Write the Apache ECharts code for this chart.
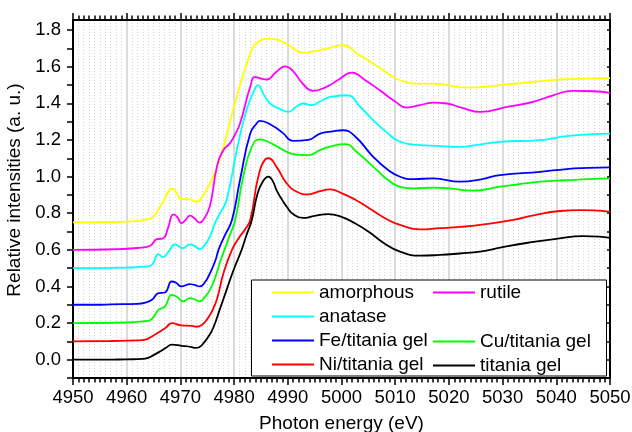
<!DOCTYPE html>
<html>
<head>
<meta charset="utf-8">
<script src="https://cdn.jsdelivr.net/npm/echarts@6.0.0/dist/echarts.min.js"></script>
<style>
  html, body { margin: 0; padding: 0; background: #fff; }
  #main { width: 632px; height: 432px; }
</style>
</head>
<body>
<div id="main"></div>
<script>
// spectra (photon energy in eV, relative intensity)
var eAmorphous = [4950, 4958, 4962, 4963.5, 4964.9, 4966.2, 4966.8, 4967.6, 4968.4, 4969.2, 4970.2, 4971.5, 4973, 4973.6, 4975.5, 4977.4, 4979.8, 4983, 4984.5, 4986.7, 4988.5, 4990.5, 4992.9, 4995, 4997.2, 5000.3, 5003, 5005.9, 5008.5, 5010.9, 5014.6, 5017.1, 5020, 5023.3, 5026, 5029.5, 5035.7, 5040.7, 5045.7, 5050];
var vAmorphous = [0.75, 0.752, 0.757, 0.765, 0.78, 0.835, 0.863, 0.91, 0.936, 0.915, 0.876, 0.877, 0.863, 0.87, 0.963, 1.1, 1.362, 1.671, 1.735, 1.753, 1.744, 1.71, 1.675, 1.685, 1.699, 1.717, 1.67, 1.617, 1.565, 1.526, 1.508, 1.508, 1.498, 1.486, 1.488, 1.499, 1.517, 1.53, 1.535, 1.538];

var eRutile = [4950, 4958, 4962, 4964.3, 4965.6, 4966.8, 4967.7, 4968.7, 4969.4, 4970.2, 4971, 4971.8, 4972.7, 4973.6, 4974.3, 4975.5, 4976.8, 4978, 4979.2, 4980, 4981.1, 4983, 4983.9, 4985, 4986.1, 4987.8, 4989.5, 4991, 4993, 4994.7, 4997.2, 4999.5, 5001.9, 5004.5, 5007.2, 5010, 5012.1, 5014.6, 5017.1, 5019.6, 5022.5, 5025.8, 5030.8, 5035.7, 5039.4, 5043.2, 5046.9, 5050];
var vRutile = [0.6, 0.603, 0.61, 0.621, 0.658, 0.663, 0.72, 0.794, 0.78, 0.745, 0.765, 0.787, 0.77, 0.748, 0.765, 0.84, 1.053, 1.144, 1.181, 1.22, 1.29, 1.49, 1.544, 1.535, 1.53, 1.57, 1.602, 1.575, 1.5, 1.468, 1.49, 1.53, 1.568, 1.525, 1.47, 1.41, 1.377, 1.39, 1.404, 1.399, 1.375, 1.353, 1.38, 1.408, 1.444, 1.468, 1.466, 1.457];

var eAnatase = [4950, 4960, 4963.5, 4964.7, 4965.9, 4966.8, 4967.8, 4969, 4970.4, 4971.8, 4972.7, 4973.6, 4974.5, 4975.5, 4976.5, 4977.4, 4978.6, 4980.5, 4982.3, 4983.9, 4984.4, 4985.5, 4986.7, 4988.5, 4990.1, 4991.5, 4992.9, 4994.4, 4996, 4997.9, 5001, 5003.5, 5005.9, 5008.5, 5010.9, 5014.6, 5018, 5021.4, 5025, 5029.5, 5037, 5041.9, 5046, 5050];
var vAnatase = [0.5, 0.503, 0.508, 0.518, 0.576, 0.56, 0.59, 0.63, 0.609, 0.63, 0.62, 0.603, 0.625, 0.672, 0.75, 0.8, 0.872, 1.144, 1.362, 1.48, 1.499, 1.45, 1.399, 1.37, 1.353, 1.38, 1.399, 1.39, 1.41, 1.435, 1.444, 1.38, 1.308, 1.24, 1.19, 1.172, 1.168, 1.162, 1.172, 1.19, 1.199, 1.221, 1.23, 1.235];

var eFe = [4950, 4955, 4957, 4962, 4963.5, 4964.7, 4965.9, 4967.1, 4968.4, 4969.2, 4970.2, 4971.8, 4972.6, 4973.6, 4974.5, 4975.5, 4976.5, 4977.1, 4978.3, 4979.6, 4981.1, 4983, 4984.2, 4984.8, 4987, 4989, 4991, 4993.8, 4996, 4998, 5000.3, 5002.5, 5005.9, 5008.5, 5010.9, 5013.4, 5017.1, 5022.1, 5026, 5029.5, 5037, 5041.9, 5046, 5050];
var vFe = [0.3, 0.3, 0.302, 0.305, 0.312, 0.327, 0.363, 0.367, 0.427, 0.42, 0.4, 0.413, 0.408, 0.4, 0.42, 0.472, 0.54, 0.6, 0.68, 0.763, 0.981, 1.235, 1.29, 1.304, 1.28, 1.24, 1.195, 1.2, 1.235, 1.245, 1.253, 1.22, 1.108, 1.04, 0.999, 0.986, 0.99, 0.972, 0.985, 1.008, 1.026, 1.041, 1.047, 1.05];

var eCu = [4950, 4960, 4963.5, 4964.7, 4965.9, 4967.1, 4968.4, 4969.3, 4970.5, 4971.8, 4972.6, 4973.6, 4974.5, 4975.5, 4976.5, 4977.4, 4978.2, 4979.2, 4980.2, 4981.7, 4983.3, 4984.7, 4987, 4989.8, 4991.5, 4993.8, 4996, 4998, 5000.6, 5003, 5006.6, 5008.5, 5010.9, 5013.4, 5017.1, 5020, 5024.5, 5029.5, 5033, 5037, 5042, 5046, 5050];
var vCu = [0.2, 0.203, 0.21, 0.222, 0.272, 0.29, 0.354, 0.345, 0.318, 0.336, 0.33, 0.318, 0.34, 0.381, 0.45, 0.536, 0.6, 0.68, 0.763, 0.999, 1.162, 1.203, 1.18, 1.135, 1.12, 1.117, 1.144, 1.165, 1.177, 1.13, 1.035, 0.985, 0.944, 0.935, 0.94, 0.935, 0.923, 0.945, 0.958, 0.972, 0.98, 0.986, 0.99];

var eNi = [4950, 4957, 4962, 4963.5, 4964.7, 4966.2, 4967.3, 4968.4, 4970.2, 4972.1, 4973, 4974, 4974.9, 4975.8, 4976.8, 4978, 4979.6, 4981, 4982, 4983, 4984.5, 4985.8, 4986.4, 4987.9, 4989.8, 4991.7, 4993.8, 4996, 4997.9, 5000, 5002.5, 5005, 5008.7, 5010.9, 5014.6, 5018.3, 5022, 5025.8, 5032, 5036, 5040.7, 5044.4, 5047, 5050];
var vNi = [0.1, 0.102, 0.105, 0.11, 0.127, 0.154, 0.175, 0.2, 0.187, 0.185, 0.18, 0.19, 0.218, 0.26, 0.33, 0.47, 0.6, 0.67, 0.71, 0.763, 0.999, 1.094, 1.1, 1.053, 0.963, 0.917, 0.903, 0.92, 0.93, 0.91, 0.875, 0.83, 0.763, 0.736, 0.712, 0.718, 0.725, 0.736, 0.763, 0.79, 0.812, 0.817, 0.815, 0.807];

var eGel = [4950, 4956, 4960, 4963, 4964, 4965, 4966.2, 4967.3, 4968.4, 4970.2, 4972.1, 4972.8, 4973.5, 4974.3, 4975.2, 4976.1, 4977.4, 4978.6, 4979.9, 4981.4, 4982.3, 4983.3, 4984.3, 4985.3, 4986.4, 4987.2, 4987.9, 4989, 4989.8, 4991, 4992.8, 4995, 4997.5, 5000, 5002.5, 5005, 5008, 5010.9, 5014.6, 5018.3, 5022, 5025.8, 5030, 5035, 5040, 5045, 5048, 5050];
var vGel = [0, 0, 0.002, 0.004, 0.01, 0.025, 0.045, 0.065, 0.082, 0.076, 0.069, 0.064, 0.068, 0.09, 0.125, 0.173, 0.28, 0.381, 0.49, 0.6, 0.68, 0.763, 0.9, 0.97, 1.0, 0.975, 0.926, 0.87, 0.835, 0.795, 0.774, 0.785, 0.795, 0.78, 0.745, 0.7, 0.635, 0.59, 0.568, 0.572, 0.58, 0.59, 0.615, 0.64, 0.66, 0.675, 0.672, 0.665];

var names = ['amorphous', 'rutile', 'anatase', 'Fe/titania gel', 'Cu/titania gel', 'Ni/titania gel', 'titania gel'];
var colors = ['#ffff00', '#ff00ff', '#00ffff', '#0000ff', '#00ff00', '#ff0000', '#000000'];
var energies = [eAmorphous, eRutile, eAnatase, eFe, eCu, eNi, eGel];
var values = [vAmorphous, vRutile, vAnatase, vFe, vCu, vNi, vGel];

var yTicks = [-0.1, 0, 0.1, 0.2, 0.3, 0.4, 0.5, 0.6, 0.7, 0.8, 0.9, 1.0, 1.1, 1.2, 1.3, 1.4, 1.5, 1.6, 1.7, 1.8];
var yLabels = [0, 0.2, 0.4, 0.6, 0.8, 1.0, 1.2, 1.4, 1.6, 1.8];

var myChart = echarts.init(document.getElementById('main'));

var series = names.map(function (name, i) {
  return {
    name: name,
    type: 'line',
    xAxisIndex: 0,
    yAxisIndex: 0,
    symbol: 'none',
    smooth: 0.5,
    color: colors[i],
    lineStyle: { width: 1.8, color: colors[i] },
    data: energies[i].map(function (e, j) { return [e, values[i][j]]; })
  };
});

var axisLineStyle = { color: '#000', width: 2 };
var legendText = { fontSize: 19, color: '#000' };
var legendBase = {
  orient: 'vertical', icon: 'rect',
  itemWidth: 42, itemHeight: 2, itemGap: 5,
  selectedMode: false, textStyle: legendText
};

var option = {
  animation: false,
  backgroundColor: '#fff',
  textStyle: { fontFamily: 'Liberation Sans' },
  grid: { left: 73, right: 22, top: 20, bottom: 54, outerBoundsMode: 'none' },
  xAxis: [{
    type: 'value',
    position: 'bottom',
    min: 4950, max: 5050, interval: 10,
    name: 'Photon energy (eV)',
    nameLocation: 'middle',
    nameGap: 36,
    nameTextStyle: { fontSize: 19, color: '#000' },
    axisLine: { onZero: false, lineStyle: axisLineStyle },
    axisTick: { length: 7, lineStyle: { color: '#000', width: 1.5 } },
    minorTick: { show: true, splitNumber: 10, length: 4.5, lineStyle: { color: '#000', width: 1.5 } },
    axisLabel: { fontSize: 18.5, color: '#000', margin: 10, formatter: function (v) { return String(v); } },
    splitLine: { show: true, lineStyle: { color: '#cfcfcf', width: 1.5 } },
    minorSplitLine: { show: true, lineStyle: { color: '#d4d4d4', width: 1, type: [1, 2] } }
  }, {
    type: 'value',
    position: 'top',
    min: 4950, max: 5050, interval: 10,
    axisLine: { onZero: false, lineStyle: axisLineStyle },
    axisTick: { length: 7, lineStyle: { color: '#000', width: 1.5 } },
    minorTick: { show: true, splitNumber: 10, length: 4.5, lineStyle: { color: '#000', width: 1.5 } },
    axisLabel: { show: false },
    splitLine: { show: false }
  }],
  yAxis: [{
    type: 'value',
    position: 'left',
    min: -0.1, max: 1.855,
    name: 'Relative intensities (a. u.)',
    nameLocation: 'middle',
    nameGap: 46,
    nameTextStyle: { fontSize: 19, color: '#000', padding: [0, 0, 0, 18] },
    axisLine: { onZero: false, lineStyle: axisLineStyle },
    axisTick: { length: 6, customValues: yTicks, lineStyle: { color: '#000', width: 1.5 } },
    axisLabel: {
      fontSize: 18.5, color: '#000', margin: 12, customValues: yLabels,
      formatter: function (v) { return v.toFixed(1); }
    },
    splitLine: { show: false }
  }, {
    type: 'value',
    position: 'right',
    min: -0.1, max: 1.855,
    axisLine: { onZero: false, lineStyle: axisLineStyle },
    axisTick: { inside: true, length: 3, customValues: yTicks, lineStyle: { color: '#000', width: 1.5 } },
    axisLabel: { show: false },
    splitLine: { show: false }
  }],
  legend: [
    Object.assign({ data: ['amorphous', 'anatase', 'Fe/titania gel', 'Ni/titania gel'], left: 267, top: 278 }, legendBase),
    Object.assign({ data: ['rutile'], left: 428, top: 278 }, legendBase),
    Object.assign({ data: ['Cu/titania gel', 'titania gel'], left: 428, top: 327 }, legendBase)
  ],
  graphic: [{
    type: 'rect',
    z: 3,
    shape: { x: 251.5, y: 280, width: 355, height: 96 },
    style: { fill: '#fff', stroke: '#000', lineWidth: 1 }
  }],
  series: series
};

myChart.setOption(option);
</script>
</body>
</html>
